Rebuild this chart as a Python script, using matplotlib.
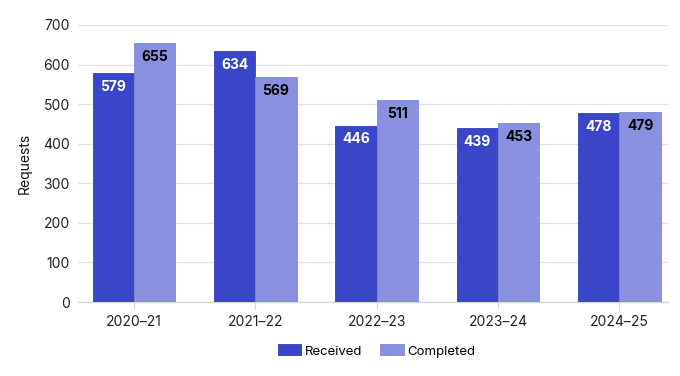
import matplotlib
matplotlib.use("Agg")
import matplotlib.pyplot as plt
import numpy as np

categories = ["2020–21", "2021–22", "2022–23", "2023–24", "2024–25"]
received = [579, 634, 446, 439, 478]
completed = [655, 569, 511, 453, 479]

plt.rcParams['font.family'] = ['Inter', 'DejaVu Sans']

fig = plt.figure(figsize=(6.8, 3.76), dpi=100)
ax = fig.add_axes([78/680, (376-302)/376, 590/680, 277/376])

x = np.arange(len(categories))
w = 0.34
c_rec = "#3a45c8"
c_comp = "#8890df"
b1 = ax.bar(x - w/2, received, w, color=c_rec, edgecolor="#3340c0", linewidth=0.6, label="Received", zorder=3)
b2 = ax.bar(x + w/2, completed, w, color=c_comp, edgecolor="#7f88dc", linewidth=0.6, label="Completed", zorder=3)

for bars, col in ((b1, "white"), (b2, "black")):
    for r in bars:
        h = r.get_height()
        ax.annotate(f"{h:.0f}", (r.get_x() + r.get_width()/2, h), xytext=(0, -10),
                    textcoords="offset points", ha="center", va="center",
                    color=col, fontsize=10, fontweight="bold", zorder=4)

ax.set_ylim(0, 700)
ax.set_yticks(range(0, 701, 100))
ax.set_xlim(-0.46, 4.40)
ax.set_xticks(x)
ax.set_xticklabels(categories)
ax.grid(axis="y", color="#e2e2e2", linewidth=1, zorder=0)
ax.set_axisbelow(True)
for s in ["top", "right", "left"]:
    ax.spines[s].set_visible(False)
ax.spines["bottom"].set_color("#d8d8d8")
ax.spines["bottom"].set_linewidth(1)
ax.tick_params(axis="y", length=0, labelsize=10, colors="#222222", pad=6)
ax.tick_params(axis="x", length=5, color="#d8d8d8", labelsize=10, labelcolor="#222222", pad=4)
ax.set_ylabel("Requests", fontsize=10, color="#111111", labelpad=8)

leg = fig.legend(handles=[b1, b2], loc="center", bbox_to_anchor=(376.5/680, (376-351)/376),
                 ncol=2, frameon=False, fontsize=9.5, handlelength=1.8, handleheight=0.9,
                 columnspacing=1.3, handletextpad=0.3)

fig.savefig("out.png", dpi=100)
